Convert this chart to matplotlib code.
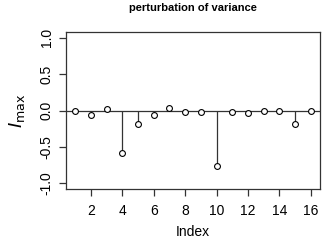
import matplotlib
matplotlib.use("Agg")
import matplotlib.pyplot as plt

index = list(range(1, 17))
imax = [0.0, -0.06, 0.015, -0.59, -0.18, -0.06, 0.03, -0.02,
        -0.02, -0.77, -0.02, -0.035, -0.01, 0.0, -0.19, -0.01]
xticks = [2, 4, 6, 8, 10, 12, 14, 16]
yticks = [-1.0, -0.5, 0.0, 0.5, 1.0]
title = "perturbation of variance"

plt.rcParams['font.family'] = ['Liberation Sans', 'DejaVu Sans']
col = '#333333'

fig = plt.figure(figsize=(3.24, 2.41), dpi=100)
ax = fig.add_axes([66/324, 1-189/241, (320-66)/324, (189-32)/241])

ax.axhline(0, color=col, lw=0.9, zorder=1)
ax.vlines(index, 0, imax, color=col, lw=0.9, zorder=1)
ax.plot(index, imax, 'o', mfc='white', mec='black', mew=0.8, ms=4.2, zorder=3)

ax.set_xlim(0.4, 16.6)
ax.set_ylim(-1.08, 1.08)
ax.set_xticks(xticks)
ax.set_xticklabels([str(t) for t in xticks])
ax.set_yticks(yticks)
ax.set_yticklabels([f"{t:.1f}" for t in yticks], rotation=90, va='center')
for s in ax.spines.values():
    s.set_color(col)
    s.set_linewidth(0.9)
ax.tick_params(axis='both', direction='out', length=5, width=0.9, color=col,
               labelsize=10, labelcolor='black')
ax.tick_params(axis='x', pad=6)
ax.tick_params(axis='y', pad=4)
ax.set_xlabel("Index", fontsize=10, labelpad=5)
ax.set_ylabel(r"$I_{\mathrm{max}}$", fontsize=13, labelpad=9)
fig.text((66+320)/2/324, 1-8/241, title, ha='center', va='center',
         fontsize=8, fontweight='bold')

fig.savefig("out.png", dpi=100)
